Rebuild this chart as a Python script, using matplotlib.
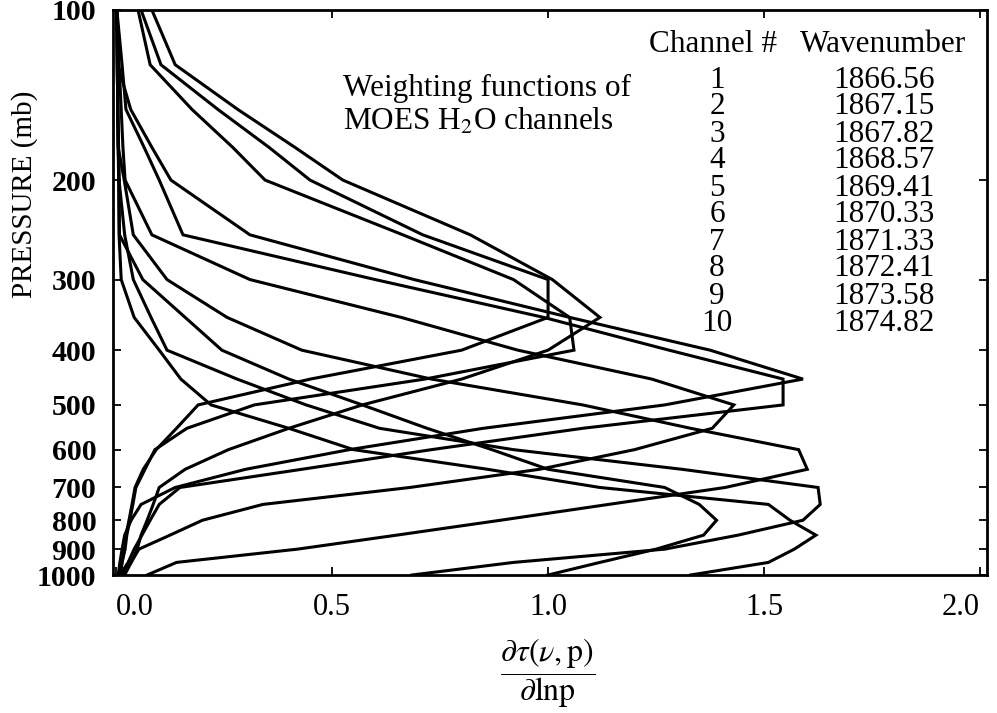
import matplotlib
matplotlib.use('Agg')
import matplotlib.pyplot as plt
from matplotlib.ticker import FixedLocator, NullLocator

plt.rcParams['font.family'] = ['Liberation Serif', 'DejaVu Serif']
plt.rcParams['mathtext.fontset'] = 'stix'

# pressure levels (mb) shared by all weighting functions
pressure = [100, 125, 150, 175, 200, 250, 300, 350, 400, 450, 500,
            550, 600, 650, 700, 750, 800, 850, 900, 950, 1000]

# d tau / d ln p, one list per channel
ch1 = [0.058, 0.104, 0.236, 0.354, 0.449, 0.71, 1.0, 1.0, 0.80, 0.45, 0.19,
       0.14, 0.093, 0.063, 0.044, 0.037, 0.03, 0.023, 0.019, 0.014, 0.009]
ch2 = [0.083, 0.137, 0.282, 0.414, 0.525, 0.82, 1.01, 1.12, 1.0, 0.80, 0.57,
       0.40, 0.26, 0.16, 0.10, 0.086, 0.072, 0.058, 0.049, 0.035, 0.02]
ch3 = [0.051, 0.079, 0.176, 0.27, 0.345, 0.664, 0.92, 1.05, 1.06, 0.715, 0.32,
       0.164, 0.09, 0.067, 0.046, 0.039, 0.032, 0.025, 0.021, 0.014, 0.009]
ch4 = [0.002, 0.004, 0.034, 0.083, 0.127, 0.31, 0.69, 1.05, 1.375, 1.59, 1.27,
       0.85, 0.54, 0.30, 0.137, 0.058, 0.035, 0.02, 0.014, 0.009, 0.005]
ch5 = [0.002, 0.014, 0.023, 0.065, 0.10, 0.155, 0.60, 0.99, 1.28, 1.544, 1.544,
       1.08, 0.73, 0.43, 0.148, 0.10, 0.079, 0.06, 0.042, 0.028, 0.009]
ch6 = [0.002, 0.007, 0.012, 0.016, 0.021, 0.083, 0.31, 0.66, 0.93, 1.24, 1.43,
       1.38, 1.20, 0.98, 0.68, 0.34, 0.20, 0.125, 0.053, 0.035, 0.014]
ch7 = [0.002, 0.003, 0.004, 0.005, 0.019, 0.04, 0.118, 0.257, 0.43, 0.73, 1.08,
       1.33, 1.58, 1.60, 1.41, 1.14, 0.89, 0.65, 0.42, 0.14, 0.072]
ch8 = [0.002, 0.003, 0.004, 0.006, 0.007, 0.02, 0.04, 0.081, 0.118, 0.28, 0.44,
       0.61, 0.92, 1.31, 1.625, 1.63, 1.59, 1.44, 1.27, 0.92, 0.685]
ch9 = [0.002, 0.003, 0.004, 0.005, 0.007, 0.008, 0.062, 0.16, 0.245, 0.40, 0.57,
       0.72, 0.87, 1.0, 1.27, 1.35, 1.39, 1.36, 1.25, 1.12, 1.0]
ch10 = [0.002, 0.003, 0.004, 0.005, 0.006, 0.007, 0.012, 0.042, 0.10, 0.15, 0.22,
        0.40, 0.55, 0.86, 1.12, 1.51, 1.56, 1.62, 1.57, 1.51, 1.33]

channels = ['1', '2', '3', '4', '5', '6', '7', '8', '9', '10']
wavenumbers = ['1866.56', '1867.15', '1867.82', '1868.57', '1869.41',
               '1870.33', '1871.33', '1872.41', '1873.58', '1874.82']

y_ticks = [100, 200, 300, 400, 500, 600, 700, 800, 900, 1000]
x_ticks = [0.0, 0.5, 1.0, 1.5, 2.0]

W, H = 997, 713
fig = plt.figure(figsize=(W / 100, H / 100), dpi=100)
ax = fig.add_axes([113 / W, 1 - 575 / H, 874 / W, 565 / H])

for w in [ch1, ch2, ch3, ch4, ch5, ch6, ch7, ch8, ch9, ch10]:
    ax.plot(w, pressure, color='black', lw=2.2, solid_joinstyle='miter')

ax.set_yscale('log')
ax.set_ylim(1000, 100)
ax.set_xlim(-0.007, 2.016)
ax.yaxis.set_major_locator(FixedLocator(y_ticks))
ax.yaxis.set_minor_locator(NullLocator())
ax.set_yticklabels([str(p) for p in y_ticks], fontsize=21.5, fontweight='bold')
ax.set_xticks(x_ticks)
ax.set_xticklabels([f'{x:.1f}' for x in x_ticks], fontsize=22)
# first and last x labels sit inside the frame edges, as in the original
xl = ax.get_xticklabels()
xl[0].set_horizontalalignment('left')
xl[-1].set_horizontalalignment('right')
ax.tick_params(direction='in', top=True, right=True, length=6, width=1.3)
ax.tick_params(axis='x', pad=13)
ax.tick_params(axis='y', pad=12)
for s in ax.spines.values():
    s.set_linewidth(2.0)

# axis titles
fig.text(25 / W, 1 - 194 / H, 'PRESSURE (mb)', rotation=90, fontsize=21,
         ha='center', va='center')
fig.text(548 / W, 1 - 673 / H,
         r'$\dfrac{\partial\tau(\nu,\mathrm{p})}{\partial\mathrm{lnp}}$',
         fontsize=23, ha='center', va='center')

# caption
fig.text(343 / W, 1 - 88 / H, 'Weighting functions of', fontsize=22.5,
         ha='left', va='center')
fig.text(343 / W, 1 - 122 / H, r'MOES H$_2$O channels', fontsize=22.5,
         ha='left', va='center')

# channel table
fig.text(713 / W, 1 - 45 / H, 'Channel #', fontsize=22.5, ha='center', va='center')
fig.text(883 / W, 1 - 45 / H, 'Wavenumber', fontsize=22.5, ha='center', va='center')
for i, (c, wn) in enumerate(zip(channels, wavenumbers)):
    yy = 1 - (80 + 27 * i) / H
    fig.text(717 / W, yy, c, fontsize=22.5, ha='center', va='center')
    fig.text(884 / W, yy, wn, fontsize=22.5, ha='center', va='center')

fig.savefig('out.png', dpi=100)
